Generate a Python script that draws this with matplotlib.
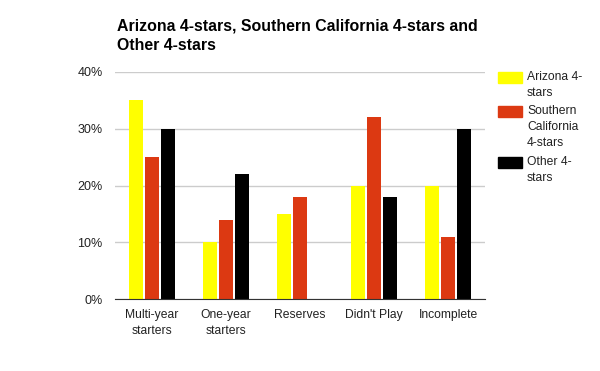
import numpy as np
import matplotlib.pyplot as plt
from matplotlib.patches import Rectangle
from matplotlib.ticker import FuncFormatter

plt.rcParams['font.family'] = ['Liberation Sans', 'DejaVu Sans']

categories = ["Multi-year\nstarters", "One-year\nstarters", "Reserves", "Didn't Play", "Incomplete"]
arizona = [35, 10, 15, 20, 20]
socal = [25, 14, 18, 32, 11]
other = [30, 22, 0, 18, 30]

series_names = ["Arizona 4-\nstars", "Southern\nCalifornia\n4-stars", "Other 4-\nstars"]
colors = ["#ffff00", "#dc3912", "#000000"]

fig = plt.figure(figsize=(6, 3.71), dpi=100)
ax = fig.add_axes([115 / 600, 1 - 299 / 371, 370 / 600, 227 / 371])

x = np.arange(len(categories))
w = 0.19
offsets = [-0.21, 0, 0.21]
for vals, off, c in zip([arizona, socal, other], offsets, colors):
    ax.bar(x + off, vals, width=w, color=c, zorder=3)

ax.set_xlim(-0.5, len(categories) - 0.5)
ax.set_ylim(0, 40)
ax.set_yticks([0, 10, 20, 30, 40])
ax.yaxis.set_major_formatter(FuncFormatter(lambda v, p: f"{v:.0f}%"))
ax.set_xticks(x)
ax.set_xticklabels(categories, linespacing=1.35)
ax.tick_params(axis='both', length=0, labelsize=8.7, colors='#222222')
ax.tick_params(axis='y', pad=9, labelsize=9)
ax.tick_params(axis='x', pad=7.5)
ax.grid(axis='y', color='#cccccc', linewidth=1, zorder=0)
for s in ['top', 'right', 'left']:
    ax.spines[s].set_visible(False)
ax.spines['bottom'].set_color('#333333')
ax.spines['bottom'].set_zorder(4)

fig.text(117 / 600, 1 - 36 / 371, "Arizona 4-stars, Southern California 4-stars and\nOther 4-stars",
         fontsize=11.4, fontweight='bold', va='center', ha='left', linespacing=1.4)

# legend drawn by hand so the swatch sits on the first line
tops = [72, 106, 157]
for name, c, top in zip(series_names, colors, tops):
    fig.patches.append(Rectangle((498 / 600, 1 - (top + 11) / 371), 24 / 600, 11 / 371,
                                 transform=fig.transFigure, color=c))
    fig.text(527 / 600, 1 - (top - 1) / 371, name, fontsize=8.7, color='#222222',
             va='top', ha='left', linespacing=1.42)

fig.savefig("out.png", dpi=100)
